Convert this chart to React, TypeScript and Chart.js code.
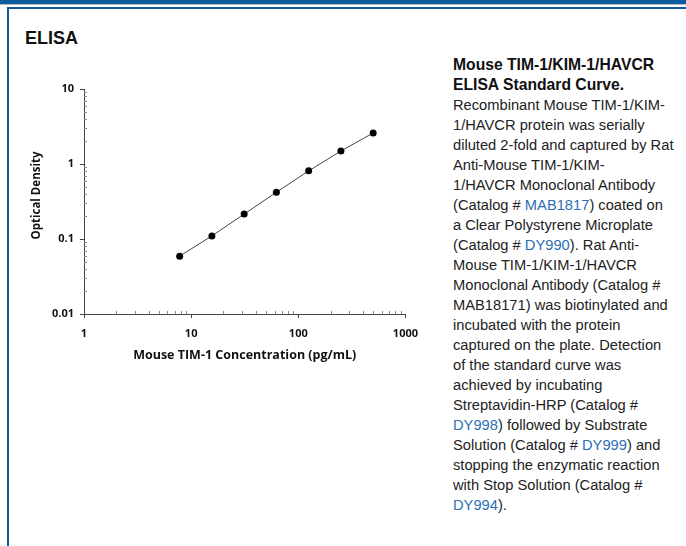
import React, { useEffect, useRef } from 'react';
import { Chart, registerables } from 'chart.js';

Chart.register(...registerables);

const concentrations = [7.8125, 15.625, 31.25, 62.5, 125, 250, 500];
const opticalDensity = [0.059, 0.11, 0.215, 0.42, 0.81, 1.49, 2.59];
const xTickValues = [1, 10, 100, 1000];
const yTickValues = [0.01, 0.1, 1, 10];
const xTitle = 'Mouse TIM-1 Concentration (pg/mL)';
const yTitle = 'Optical Density';

const AXIS = '#444';
const MINOR = '#8a8a8a';
const BLUE = '#0b5c9e';
const LINK = '#2a6fb5';
const CHART_FONT = '"Open Sans", "Noto Sans", sans-serif';

const minorTicks = {
  id: 'minorTicks',
  afterDraw(chart: any) {
    const { ctx, chartArea, scales } = chart;
    const xs = scales.x;
    const ys = scales.y;
    ctx.save();
    ctx.strokeStyle = MINOR;
    ctx.lineWidth = 1;
    ctx.beginPath();
    for (let i = 0; i < xTickValues.length - 1; i++) {
      for (let k = 2; k <= 9; k++) {
        const px = Math.round(xs.getPixelForValue(xTickValues[i] * k)) + 0.5;
        ctx.moveTo(px, chartArea.bottom);
        ctx.lineTo(px, chartArea.bottom - 3);
      }
    }
    for (let i = 0; i < yTickValues.length - 1; i++) {
      for (let k = 2; k <= 9; k++) {
        const py = Math.round(ys.getPixelForValue(yTickValues[i] * k)) + 0.5;
        ctx.moveTo(chartArea.left, py);
        ctx.lineTo(chartArea.left + 3, py);
      }
    }
    ctx.stroke();

    // y-axis title, drawn slightly above the plot's vertical centre as in the reference
    const cx = ys.left + 10 + 7;
    const cy = (chartArea.top + chartArea.bottom) / 2 - 6;
    ctx.translate(cx, cy);
    ctx.rotate(-Math.PI / 2);
    ctx.fillStyle = '#111';
    ctx.font = `bold 11.5px ${CHART_FONT}`;
    ctx.textAlign = 'center';
    ctx.textBaseline = 'middle';
    ctx.fillText(yTitle, 0, 0);
    ctx.restore();
  },
};

function ElisaChart() {
  const ref = useRef<HTMLCanvasElement>(null);
  useEffect(() => {
    if (!ref.current) return;
    const chart = new Chart(ref.current, {
      type: 'line',
      data: {
        datasets: [
          {
            data: concentrations.map((c, i) => ({ x: c, y: opticalDensity[i] })),
            borderColor: '#444',
            borderWidth: 1,
            pointRadius: 3.5,
            pointBackgroundColor: '#000',
            pointBorderColor: '#000',
            pointBorderWidth: 0,
            fill: false,
            tension: 0,
          },
        ],
      },
      options: {
        animation: false,
        responsive: false,
        maintainAspectRatio: false,
        layout: { padding: { left: 0, right: 13, top: 19, bottom: 0 } },
        plugins: { legend: { display: false }, tooltip: { enabled: false }, title: { display: false } },
        scales: {
          x: {
            type: 'logarithmic',
            min: 1,
            max: 1000,
            afterBuildTicks: (s: any) => {
              s.ticks = xTickValues.map((v) => ({ value: v }));
            },
            afterFit: (s: any) => {
              s.height = 56;
            },
            ticks: {
              autoSkip: false,
              maxRotation: 0,
              padding: 9,
              color: '#111',
              font: { family: CHART_FONT, size: 11, weight: 'bold' },
              callback: (v: any) => String(v),
            },
            grid: { drawOnChartArea: false, drawTicks: true, tickLength: 4, color: AXIS },
            border: { display: true, color: AXIS, width: 1 },
            title: {
              display: true,
              text: xTitle,
              color: '#111',
              font: { family: CHART_FONT, size: 12.5, weight: 'bold' },
              padding: { top: 0, bottom: 7 },
            },
          },
          y: {
            type: 'logarithmic',
            min: 0.01,
            max: 10,
            afterBuildTicks: (s: any) => {
              s.ticks = yTickValues.map((v) => ({ value: v }));
            },
            afterFit: (s: any) => {
              s.width = 64;
            },
            ticks: {
              autoSkip: false,
              padding: 6,
              color: '#111',
              font: { family: CHART_FONT, size: 11, weight: 'bold' },
              callback: (v: any) => String(v),
            },
            grid: { drawOnChartArea: false, drawTicks: true, tickLength: 4, color: AXIS },
            border: { display: true, color: AXIS, width: 1 },
            title: { display: false },
          },
        },
      },
      plugins: [minorTicks],
    } as any);
    return () => chart.destroy();
  }, []);
  return <canvas ref={ref} width={407} height={300} style={{ width: 407, height: 300 }} />;
}

const link = (t: string) => <span style={{ color: LINK }}>{t}</span>;
const boldStyle = { color: '#111', fontSize: 15.7 };

export default function App() {
  return (
    <div style={{ position: 'absolute', left: 0, top: 0, width: 686, height: 546, background: '#fff', overflow: 'hidden' }}>
      <div style={{ position: 'absolute', left: 0, top: 0, width: 686, height: 4, background: BLUE }} />
      <div style={{ position: 'absolute', left: 0, top: 4, width: 686, height: 1, background: '#b9b9b9' }} />
      <div style={{ position: 'absolute', left: 7, top: 7, width: 679, height: 2, background: BLUE }} />
      <div style={{ position: 'absolute', left: 7, top: 7, width: 2, height: 539, background: BLUE }} />
      <div
        style={{
          position: 'absolute',
          left: 25,
          top: 28,
          fontFamily: '"Liberation Sans", Arial, sans-serif',
          fontWeight: 'bold',
          fontSize: 18,
          color: '#111',
        }}
      >
        ELISA
      </div>
      <div style={{ position: 'absolute', left: 20, top: 70 }}>
        <ElisaChart />
      </div>
      <div
        style={{
          position: 'absolute',
          left: 453,
          top: 55,
          fontFamily: '"Liberation Sans", Arial, sans-serif',
          fontSize: 14.7,
          lineHeight: '20px',
          color: '#222',
          whiteSpace: 'nowrap',
        }}
      >
        <b style={boldStyle}>Mouse TIM-1/KIM-1/HAVCR</b>
        <br />
        <b style={boldStyle}>ELISA Standard Curve.</b>
        <br />
        Recombinant Mouse TIM-1/KIM-
        <br />
        1/HAVCR protein was serially
        <br />
        diluted 2-fold and captured by Rat
        <br />
        Anti-Mouse TIM-1/KIM-
        <br />
        1/HAVCR Monoclonal Antibody
        <br />
        (Catalog # {link('MAB1817')}) coated on
        <br />
        a Clear Polystyrene Microplate
        <br />
        (Catalog # {link('DY990')}). Rat Anti-
        <br />
        Mouse TIM-1/KIM-1/HAVCR
        <br />
        Monoclonal Antibody (Catalog #
        <br />
        MAB18171) was biotinylated and
        <br />
        incubated with the protein
        <br />
        captured on the plate. Detection
        <br />
        of the standard curve was
        <br />
        achieved by incubating
        <br />
        Streptavidin-HRP (Catalog #
        <br />
        {link('DY998')}) followed by Substrate
        <br />
        Solution (Catalog # {link('DY999')}) and
        <br />
        stopping the enzymatic reaction
        <br />
        with Stop Solution (Catalog #
        <br />
        {link('DY994')}).
      </div>
    </div>
  );
}
